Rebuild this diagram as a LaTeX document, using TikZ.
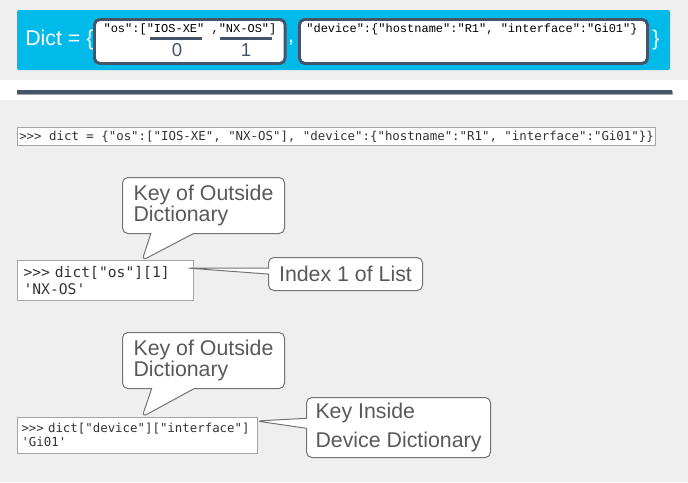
\documentclass[tikz,border=0pt]{standalone}
\usepackage{fontspec}
\setmainfont{Liberation Sans}
\setmonofont{DejaVu Sans Mono}
\newfontfamily\boxmono{Liberation Mono}
\usetikzlibrary{shapes.callouts,positioning}
\tikzset{>=stealth}
\definecolor{dictblue}{RGB}{0,187,234}
\definecolor{slate}{RGB}{68,84,106}
\definecolor{panelgray}{RGB}{239,239,239}
\definecolor{notegray}{RGB}{89,89,89}
\definecolor{codegray}{RGB}{165,165,165}
\tikzset{
  dictbox/.style={draw=slate,line width=2.2pt,fill=white,rounded corners=4pt,inner sep=0pt,anchor=north west},
  monotext/.style={inner sep=0pt,font=\boxmono\fontsize{9}{10}\selectfont},
  digit/.style={inner sep=0pt,text=slate,font=\fontsize{14}{14}\selectfont},
  bluetext/.style={inner sep=0pt,text=white,font=\fontsize{16}{18}\selectfont},
  codebox/.style={draw=codegray,line width=0.8pt,fill=white,anchor=north west,align=left,inner sep=4.5pt,text=black!80},
  note/.style={rectangle callout,draw=black!55,line width=0.75pt,fill=white,rounded corners=4pt,align=left,
    text=notegray,font=\fontsize{16}{15.75}\selectfont,anchor=north west,inner sep=0pt},
}
\begin{document}
\begin{tikzpicture}[x=0.75pt,y=-0.75pt]
\useasboundingbox (0,0) rectangle (688,482);
\fill[panelgray] (0,0) rectangle (688,80);
\fill[panelgray] (0,100) rectangle (688,482);
\fill[black!35] (17,91) rectangle (673,95);
\fill[slate] (17,90) rectangle (672,94);
% dictionary strip
\fill[dictblue,rounded corners=1.5pt] (17,10) rectangle (670,70);
\node (dict) [bluetext,anchor=west] at (25,40) {Dict = \{};
\node (oslist) [dictbox,minimum width=143pt,minimum height=33pt] at (93,18) {};
\node (devdict) [dictbox,minimum width=261pt,minimum height=33pt] at (298,18) {};
\node (comma) [bluetext] at (291,43) {,};
\node (close) [bluetext] at (656,40) {\}};
\node (ostext) [monotext] at (190,29) {"os":["IOS-XE" ,"NX-OS"]};
\node (devtext) [monotext] at (472,29) {"device":\{"hostname":"R1", "interface":"Gi01"\}};
\draw[slate,line width=2.25pt] (150,38) -- (202,38);
\draw[slate,line width=2.25pt] (220,38) -- (272,38);
\node (zero) [digit] at (177,50) {0};
\node (one) [digit] at (246,50) {1};
% examples
\node (fullcode) [codebox,inner sep=1pt,minimum width=478.5pt,minimum height=13.5pt,font=\fontsize{9.3}{11}\ttfamily]
  at (17,127) {>>> dict = \{"os":["IOS-XE", "NX-OS"], "device":\{"hostname":"R1", "interface":"Gi01"\}\}};
\node (oscode) [codebox,text width=123pt,minimum width=132pt,minimum height=29.25pt,font=\fontsize{11}{12.75}\ttfamily]
  at (17,260) {>>> dict["os"][1]\\'NX-OS'};
\node (devcode) [codebox,inner xsep=3pt,text width=174pt,minimum width=180pt,minimum height=23.25pt,font=\fontsize{9.3}{10.5}\ttfamily]
  at (17,417) {>>>~dict["device"]["interface"]\\'Gi01'};
\coordinate (ostip) at (142,260.5);
\coordinate (idxtip) at (187,268);
\coordinate (devtip) at (142,417);
\coordinate (inttip) at (256.5,421);
\node (osnote) [note,minimum width=121.5pt,minimum height=42pt,callout absolute pointer={(ostip)},callout pointer width=32pt]
  at (122,177) {Key of Outside\\Dictionary};
\node (idxnote) [note,minimum width=115.5pt,minimum height=24.75pt,callout absolute pointer={(idxtip)},callout pointer width=4.5pt]
  at (268,257) {Index 1 of List};
\node (devnote) [note,minimum width=121.5pt,minimum height=42pt,callout absolute pointer={(devtip)},callout pointer width=32pt]
  at (122,332) {Key of Outside\\Dictionary};
\node (keynote) [note,minimum width=138pt,minimum height=45pt,callout absolute pointer={(inttip)},callout pointer width=7.5pt,
  font=\fontsize{16}{22}\selectfont] at (306,397) {Key Inside\\Device Dictionary};
\end{tikzpicture}
\end{document}
